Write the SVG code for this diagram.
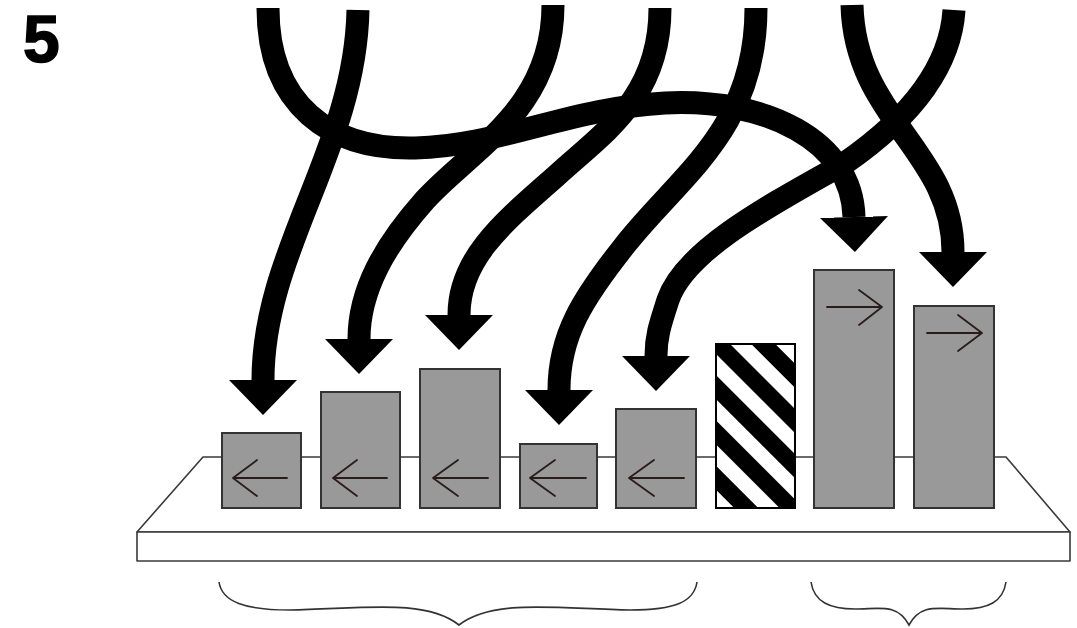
<svg xmlns="http://www.w3.org/2000/svg" width="1077" height="628" viewBox="0 0 1077 628">
  <style>
    .flow { fill: none; stroke: #000; stroke-width: 23; stroke-linecap: butt; marker-end: url(#head); }
    .shelf { fill: #fff; stroke: #3a3a3a; stroke-width: 1.6; stroke-linejoin: round; }
    .box { fill: #999999; stroke: #333; stroke-width: 2; }
    .dir { fill: none; stroke: #2b1c1c; stroke-width: 1.8; stroke-linecap: round; stroke-linejoin: round; }
    .brace { fill: none; stroke: #333; stroke-width: 1.6; }
    .label { font-family: "Liberation Sans", Arial, sans-serif; font-weight: bold; font-size: 66px; fill: #000; stroke: #000; stroke-width: 1.5; }
  </style>
  <defs>
    <marker id="head" markerUnits="userSpaceOnUse" markerWidth="36" markerHeight="68" viewBox="0 0 36 68" refX="0" refY="34" orient="auto">
      <path d="M0,0 L35,34 L0,68 Z" fill="#000"/>
    </marker>
    <pattern id="hatch" patternUnits="userSpaceOnUse" width="32" height="32" patternTransform="rotate(-45)">
      <rect x="0" y="0" width="32" height="32" fill="#fff"/>
      <rect x="0" y="0" width="17" height="32" fill="#000"/>
    </pattern>
  </defs>

  <rect width="1077" height="628" fill="#fff"/>

  <text class="label" x="23" y="62">5</text>

  <g id="shelf">
    <polygon class="shelf" points="137,532 203,457 1006,457 1070,532"/>
    <rect class="shelf" x="137" y="532" width="933" height="29"/>
  </g>

  <g id="box1">
    <rect class="box" x="222" y="433" width="79" height="75"/>
    <path class="dir" d="M287,478 H233 M257,460 L233,478 L257,496"/>
  </g>
  <g id="box2">
    <rect class="box" x="321" y="392" width="79" height="116"/>
    <path class="dir" d="M387,478 H333 M357,460 L333,478 L357,496"/>
  </g>
  <g id="box3">
    <rect class="box" x="420" y="369" width="80" height="139"/>
    <path class="dir" d="M488,478 H433 M458,460 L433,478 L458,496"/>
  </g>
  <g id="box4">
    <rect class="box" x="520" y="444" width="77" height="64"/>
    <path class="dir" d="M586,478 H530 M555,460 L530,478 L555,496"/>
  </g>
  <g id="box5">
    <rect class="box" x="616" y="409" width="80" height="99"/>
    <path class="dir" d="M684,478 H629 M654,460 L629,478 L654,496"/>
  </g>
  <g id="box6">
    <rect x="716" y="344" width="79" height="164" fill="url(#hatch)" stroke="#000" stroke-width="2"/>
  </g>
  <g id="box7">
    <rect class="box" x="814" y="270" width="80" height="238"/>
    <path class="dir" d="M827,307 H882 M859,290 L882,307 L859,325"/>
  </g>
  <g id="box8">
    <rect class="box" x="914" y="306" width="80" height="202"/>
    <path class="dir" d="M927,333 H982 M958,315 L982,333 L958,351"/>
  </g>

  <g id="connectors">
    <path class="flow" d="M268,8 C268,105 330,150 415,148 C500,146 570,108 665,103 C765,98 852,140 854,217"/>
    <path class="flow" d="M553,5 C553,110 470,150 425,200 C385,245 359,290 359,339"/>
    <path class="flow" d="M358,10 C355,150 263,250 263,380"/>
    <path class="flow" d="M660,8 C660,100 600,135 555,177 C500,225 459,260 459,315"/>
    <path class="flow" d="M756,8 C756,130 680,175 625,245 C583,298 559,335 559,390"/>
    <path class="flow" d="M852,5 C855,120 953,150 953,252"/>
    <path class="flow" d="M954,10 C950,75 900,125 845,163 C770,205 685,250 668,300 C661,322 656,335 656,356"/>
  </g>

  <g id="braces">
    <path class="brace" d="M219,582 C222,602 245,610 290,610 C360,609 425,598 459,625 C493,598 560,609 630,610 C675,610 694,602 697,582"/>
    <path class="brace" d="M811,582 C814,602 830,609 855,609 C880,609 897,603 909,625 C921,603 938,609 963,609 C988,609 1003,602 1006,582"/>
  </g>
</svg>
